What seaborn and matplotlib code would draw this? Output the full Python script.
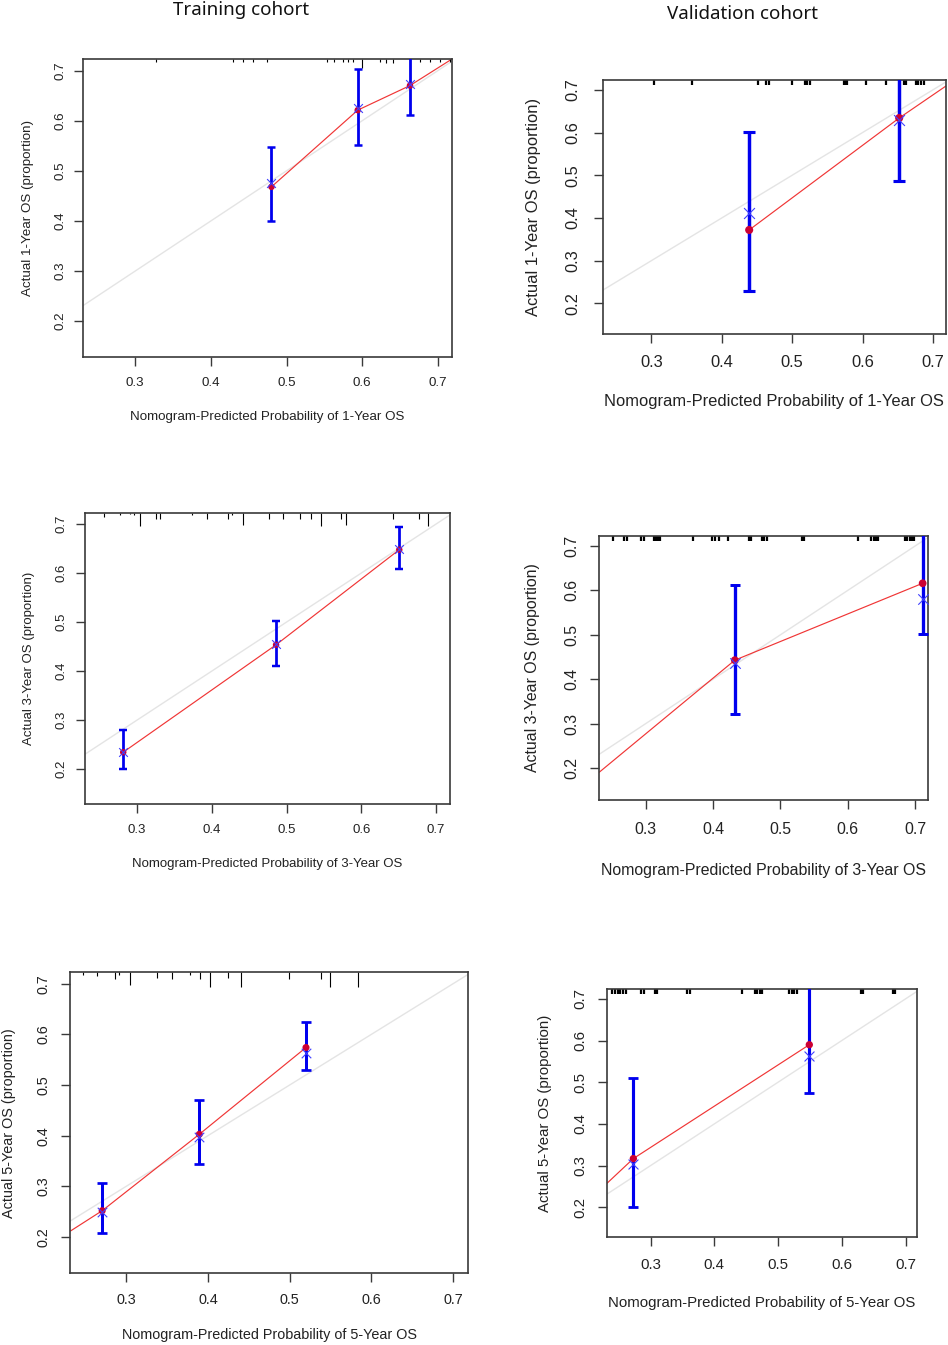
import numpy as np
import matplotlib
matplotlib.use("Agg")
import matplotlib.pyplot as plt
import seaborn as sns

# ---------------- data ----------------
titles = ["Training cohort", "Validation cohort"]
years = [1, 3, 5]
x_ticks = [0.3, 0.4, 0.5, 0.6, 0.7]
y_ticks = [0.2, 0.3, 0.4, 0.5, 0.6, 0.7]
x_range = [0.231, 0.7185]
y_range = [0.1285, 0.723]

# Training cohort, 1-year
tr1_pred = [0.480, 0.594, 0.663]
tr1_obs = [0.468, 0.621, 0.670]
tr1_corr = [0.476, 0.625, 0.673]
tr1_lo = [0.400, 0.552, 0.612]
tr1_hi = [0.547, 0.703, 0.740]
tr1_line_x = [0.480, 0.594, 0.663, 0.7185]
tr1_line_y = [0.468, 0.621, 0.670, 0.723]
tr1_rug_x = [0.328, 0.429, 0.443, 0.456, 0.474, 0.553, 0.562, 0.575, 0.581, 0.588,
             0.599, 0.623, 0.631, 0.640, 0.676, 0.690, 0.703, 0.716]
tr1_rug_n = [2, 2, 2, 2, 2, 2, 2, 2, 2, 2, 7, 2, 3, 3, 2, 2, 2, 2]

# Validation cohort, 1-year
va1_pred = [0.439, 0.652]
va1_obs = [0.372, 0.634]
va1_corr = [0.411, 0.630]
va1_lo = [0.228, 0.487]
va1_hi = [0.601, 0.760]
va1_line_x = [0.439, 0.652, 0.7185]
va1_line_y = [0.372, 0.634, 0.709]
va1_rug_x = [0.3042, 0.3585, 0.4516, 0.4634, 0.4667, 0.4997, 0.5177, 0.5214, 0.5252, 0.5734,
             0.5757, 0.5780, 0.6045, 0.6338, 0.6584, 0.6617, 0.6758, 0.6792, 0.6830, 0.6867]
va1_rug_n = [3, 3, 3, 3, 3, 3, 3, 3, 3, 3, 3, 3, 3, 3, 3, 3, 3, 3, 3, 3]

# Training cohort, 3-year
tr3_pred = [0.2817, 0.486, 0.6507]
tr3_obs = [0.2347, 0.4537, 0.6476]
tr3_corr = [0.236, 0.455, 0.648]
tr3_lo = [0.200, 0.411, 0.608]
tr3_hi = [0.279, 0.503, 0.694]
tr3_line_x = [0.2817, 0.486, 0.6507]
tr3_line_y = [0.2347, 0.4537, 0.6476]
tr3_rug_x = [0.2555, 0.2777, 0.2911, 0.2964, 0.3045, 0.3250, 0.3311, 0.3734, 0.3935, 0.4211,
             0.4277, 0.4424, 0.4771, 0.4958, 0.5180, 0.5323, 0.5457, 0.5724, 0.5790, 0.6422,
             0.6769, 0.6894, 0.7183]
tr3_rug_n = [3, 2, 1, 2, 10, 5, 5, 2, 5, 5, 2, 9, 5, 5, 5, 5, 10, 5, 9, 5, 5, 10, 10]

# Validation cohort, 3-year
va3_pred = [0.4324, 0.711]
va3_obs = [0.443, 0.616]
va3_corr = [0.436, 0.580]
va3_lo = [0.321, 0.501]
va3_hi = [0.612, 0.760]
va3_line_x = [0.2314, 0.4324, 0.711]
va3_line_y = [0.191, 0.443, 0.616]
va3_rug_x = [0.2511, 0.2674, 0.2724, 0.2936, 0.2976, 0.3119, 0.3154, 0.3184, 0.3222, 0.3702,
             0.3984, 0.4033, 0.4092, 0.4221, 0.4536, 0.4566, 0.4733, 0.4763, 0.4798, 0.5317,
             0.5356, 0.6156, 0.6344, 0.6384, 0.6418, 0.6452, 0.6847, 0.6881, 0.6917, 0.6951,
             0.6985]
va3_rug_n = [3, 3, 3, 3, 3, 3, 3, 3, 3, 3, 3, 3, 3, 3, 3, 3, 3, 3, 3, 3,
             3, 3, 3, 3, 3, 3, 3, 3, 3, 3, 3]

# Training cohort, 5-year
tr5_pred = [0.2707, 0.3895, 0.520]
tr5_obs = [0.252, 0.4028, 0.574]
tr5_corr = [0.250, 0.398, 0.564]
tr5_lo = [0.2085, 0.345, 0.529]
tr5_hi = [0.3075, 0.470, 0.624]
tr5_line_x = [0.232, 0.2707, 0.3895, 0.520]
tr5_line_y = [0.212, 0.252, 0.4028, 0.574]
tr5_rug_x = [0.2468, 0.2643, 0.2866, 0.2915, 0.3045, 0.3383, 0.3557, 0.3780, 0.3899, 0.4020,
             0.4249, 0.4411, 0.4988, 0.5387, 0.5496, 0.5841]
tr5_rug_n = [2, 3, 5, 2, 9, 4, 5, 2, 5, 10, 4, 10, 5, 5, 10, 10]

# Validation cohort, 5-year
va5_pred = [0.2728, 0.549]
va5_obs = [0.3167, 0.590]
va5_corr = [0.303, 0.562]
va5_lo = [0.200, 0.474]
va5_hi = [0.510, 0.760]
va5_line_x = [0.2305, 0.2728, 0.549]
va5_line_y = [0.256, 0.3167, 0.590]
va5_rug_x = [0.2399, 0.2435, 0.2487, 0.2524, 0.2565, 0.2608, 0.2854, 0.2890, 0.3063, 0.3099,
             0.3570, 0.3612, 0.4439, 0.4633, 0.4669, 0.4711, 0.4748, 0.5171, 0.5213, 0.5255,
             0.5297, 0.6308, 0.6335, 0.6804, 0.6841]
va5_rug_n = [3, 3, 3, 3, 3, 3, 3, 3, 3, 3, 3, 3, 3, 3, 3, 3, 3, 3, 3, 3, 3, 3, 3, 3, 3]

panels_data = [
    (1, "tr", tr1_pred, tr1_obs, tr1_corr, tr1_lo, tr1_hi, tr1_line_x, tr1_line_y, tr1_rug_x, tr1_rug_n),
    (1, "va", va1_pred, va1_obs, va1_corr, va1_lo, va1_hi, va1_line_x, va1_line_y, va1_rug_x, va1_rug_n),
    (3, "tr", tr3_pred, tr3_obs, tr3_corr, tr3_lo, tr3_hi, tr3_line_x, tr3_line_y, tr3_rug_x, tr3_rug_n),
    (3, "va", va3_pred, va3_obs, va3_corr, va3_lo, va3_hi, va3_line_x, va3_line_y, va3_rug_x, va3_rug_n),
    (5, "tr", tr5_pred, tr5_obs, tr5_corr, tr5_lo, tr5_hi, tr5_line_x, tr5_line_y, tr5_rug_x, tr5_rug_n),
    (5, "va", va5_pred, va5_obs, va5_corr, va5_lo, va5_hi, va5_line_x, va5_line_y, va5_rug_x, va5_rug_n),
]

# ---------------- layout (pixels) ----------------
W, H = 948, 1345
PX = 100 / 72.0  # pixels per point
# box (l, t, r, b), fontsize, xlabel centre y, ylabel centre x, xtick label centre y, ytick label centre x
layouts = [
    ((83.0, 59.0, 452.0, 357.0), 9.6, 417.0, 28.0, 383.0, 60.0),
    ((602.7, 80.0, 946.0, 334.0), 11.9, 401.7, 533.3, 362.7, 573.3),
    ((85.3, 512.7, 450.0, 804.3), 9.5, 864.0, 29.3, 830.0, 61.7),
    ((599.0, 535.7, 927.7, 800.0), 11.4, 870.0, 532.3, 830.0, 571.7),
    ((69.7, 972.0, 468.3, 1273.3), 10.4, 1335.0, 9.0, 1300.0, 43.3),
    ((606.7, 989.3, 917.3, 1237.0), 10.8, 1303.3, 545.0, 1265.0, 580.0),
]

sns.set_theme(style="white")
plt.rcParams["font.family"] = ["Liberation Sans", "DejaVu Sans"]

fig = plt.figure(figsize=(W / 100, H / 100), dpi=100)
fig.patch.set_facecolor("white")

TXT = "#222222"
for (yr, coh, pred, obs, corr, lo, hi, lx, ly, rx, rn), lay in zip(panels_data, layouts):
    (l, t, r, b), fs, xl_c, yl_c, xt_c, yt_c = lay
    s = fs / 9.6
    ax = fig.add_axes([l / W, 1 - b / H, (r - l) / W, (b - t) / H])
    ax.set_facecolor("white")
    ax.set_xlim(x_range)
    ax.set_ylim(y_range)

    # ideal line
    ax.axline((0, 0), (1, 1), color="#e4e4e4", lw=1.0, zorder=1)
    # calibration line
    sns.lineplot(x=lx, y=ly, ax=ax, color="#f03535", lw=0.85, sort=False,
                 estimator=None, zorder=2, legend=False)
    # rug of predictions at top
    unit = 1.35 * s / (b - t)
    ax.vlines(rx, 1 - np.array(rn) * unit, 1, transform=ax.get_xaxis_transform(),
              color="black", lw=(0.8 if coh == "tr" else 1.6), zorder=2)
    # confidence bars
    pa, oa = np.array(pred), np.array(obs)
    ax.errorbar(pa, oa, yerr=[oa - np.array(lo), np.array(hi) - oa], fmt="none",
                ecolor="#0000ee", elinewidth=2.0 * s, capsize=3.2 * s, capthick=1.8 * s, zorder=3)
    sns.scatterplot(x=pred, y=obs, ax=ax, color="#cc0033", s=22 * s * s, edgecolor="none",
                    zorder=4, legend=False)
    sns.scatterplot(x=pred, y=corr, ax=ax, color="#4040ff", marker="x", s=40 * s * s,
                    linewidth=0.8, zorder=5, legend=False)

    # axes style
    for sp in ax.spines.values():
        sp.set_color("#3a3a3a")
        sp.set_linewidth(1.2)
    ax.set_xticks(x_ticks)
    ax.set_yticks(y_ticks)
    ax.set_xticklabels([f"{v:.1f}" for v in x_ticks])
    ax.set_yticklabels([f"{v:.1f}" for v in y_ticks])
    tl = 6.2
    ax.tick_params(axis="x", direction="out", length=tl, width=1.0, color="#3a3a3a",
                   labelsize=fs, labelcolor=TXT, pad=(xt_c - b) / PX - tl,
                   bottom=True, top=False)
    ax.tick_params(axis="y", direction="out", length=tl, width=1.0, color="#3a3a3a",
                   labelsize=fs, labelcolor=TXT, pad=(l - yt_c) / PX - tl,
                   left=True, right=False, labelrotation=90)
    for lab in ax.get_xticklabels():
        lab.set_va("center")
    for lab in ax.get_yticklabels():
        lab.set_ha("center")
        lab.set_va("center")

    ax.set_xlabel(f"Nomogram-Predicted Probability of {yr}-Year OS", fontsize=fs,
                  color=TXT, va="center")
    ax.set_ylabel(f"Actual {yr}-Year OS (proportion)", fontsize=fs, color=TXT, va="center")
    ax.xaxis.set_label_coords(0.5, (b - xl_c) / (b - t))
    ax.yaxis.set_label_coords((yl_c - l) / (r - l), 0.5)

fig.text(241.3 / W, 1 - 10 / H, titles[0], ha="center", va="center", fontsize=13.5,
         family=["Noto Sans", "DejaVu Sans"], color="#111111")
fig.text(742.5 / W, 1 - 14 / H, titles[1], ha="center", va="center", fontsize=13.5,
         family=["Noto Sans", "DejaVu Sans"], color="#111111")

fig.savefig("out.png", dpi=100, facecolor="white")
